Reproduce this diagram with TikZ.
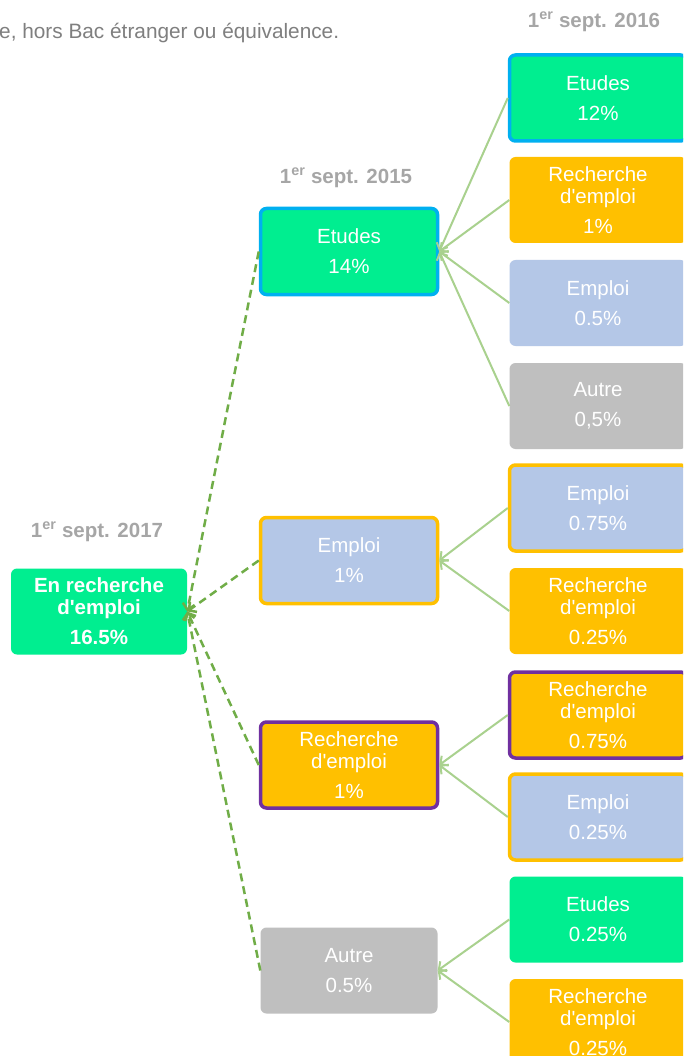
\documentclass[tikz,border=0pt]{standalone}
\usepackage{fontspec}
\setmainfont{Liberation Sans}
\usetikzlibrary{arrows.meta}
\definecolor{cEtu}{HTML}{00EE90}
\definecolor{cRch}{HTML}{FFC000}
\definecolor{cEmp}{HTML}{B4C7E7}
\definecolor{cAut}{HTML}{BFBFBF}
\definecolor{cBleu}{HTML}{00B0F0}
\definecolor{cViol}{HTML}{7030A0}
\definecolor{cGris}{HTML}{A6A6A6}
\definecolor{cTxt}{HTML}{7F7F7F}
\definecolor{cLien}{HTML}{A9D18E}
\definecolor{cPnt}{HTML}{70AD47}
\newcommand{\demp}{d\textquotesingle emploi}
\tikzset{
  bx/.style={rectangle,rounded corners=6pt,minimum width=177pt,minimum height=86pt,inner sep=0pt,
    align=center,text=white,font=\fontsize{20.5}{22}\selectfont},
  etu/.style={bx,fill=cEtu},
  rch/.style={bx,fill=cRch},
  emp/.style={bx,fill=cEmp},
  aut/.style={bx,fill=cAut},
  % the coloured frame says where the branch comes from
  bB/.style={draw=cBleu,line width=3.5pt},
  bO/.style={draw=cRch,line width=3.5pt},
  bV/.style={draw=cViol,line width=3.5pt},
  dat/.style={text=cGris,font=\fontsize{20.5}{22}\selectfont\bfseries},
  lnk/.style={draw=cLien,line width=2pt,-{Straight Barb[length=6pt,width=12pt]}},
  dsh/.style={draw=cPnt,line width=2.5pt,dash pattern=on 8pt off 5pt,-{Straight Barb[length=6pt,width=12pt]}},
}
\begin{document}
\begin{tikzpicture}[x=1pt,y=-1pt]
\clip (0,0) rectangle (683,1056);
\fill[white] (0,0) rectangle (683,1056);
\node[anchor=west,inner sep=0pt,text=cTxt,font=\fontsize{20.8}{22}\selectfont] (note) at (-1,33)
  {e, hors Bac étranger ou équivalence.};
\node[dat] (d16) at (594,22) {1\textsuperscript{er} sept. 2016};
\node[dat] (d15) at (346,178) {1\textsuperscript{er} sept. 2015};
\node[dat] (d17) at (97,532) {1\textsuperscript{er} sept. 2017};
% root
\node[etu,minimum width=176pt,font=\fontsize{20.5}{22}\selectfont\bfseries] (root) at (99,611.5)
  {En recherche\\\demp\\[8pt]16.5\%};
% 2015
\node[etu,bB] (b1) at (349,251.5) {Etudes\\[8pt]14\%};
\node[emp,bO] (b2) at (349,560.5) {Emploi\\[8pt]1\%};
\node[rch,bV] (b3) at (349,765) {Recherche\\\demp\\[8.5pt]1\%};
\node[aut] (b4) at (349,970.5) {Autre\\[8pt]0.5\%};
% 2016
\node[etu,bB] (c1) at (598,98) {Etudes\\[8pt]12\%};
\node[rch] (c2) at (598,200) {Recherche\\\demp\\[8.5pt]1\%};
\node[emp] (c3) at (598,303) {Emploi\\[8pt]0.5\%};
\node[aut] (c4) at (598,406) {Autre\\[8pt]0,5\%};
\node[emp,bO] (c5) at (598,508) {Emploi\\[8pt]0.75\%};
\node[rch] (c6) at (598,611) {Recherche\\\demp\\[8.5pt]0.25\%};
\node[rch,bV] (c7) at (598,715) {Recherche\\\demp\\[8.5pt]0.75\%};
\node[emp,bO] (c8) at (598,817) {Emploi\\[8pt]0.25\%};
\node[etu] (c9) at (598,919.5) {Etudes\\[8pt]0.25\%};
\node[rch] (c10) at (598,1022) {Recherche\\\demp\\[8.5pt]0.25\%};
% links
\foreach \s/\t in {c1/b1,c2/b1,c3/b1,c4/b1,c5/b2,c6/b2,c7/b3,c8/b3,c9/b4,c10/b4}
  \draw[lnk] (\s.west) -- (\t.east);
\foreach \s in {b1,b2,b3,b4}
  \draw[dsh] (\s.west) -- (root.east);
\end{tikzpicture}
\end{document}
